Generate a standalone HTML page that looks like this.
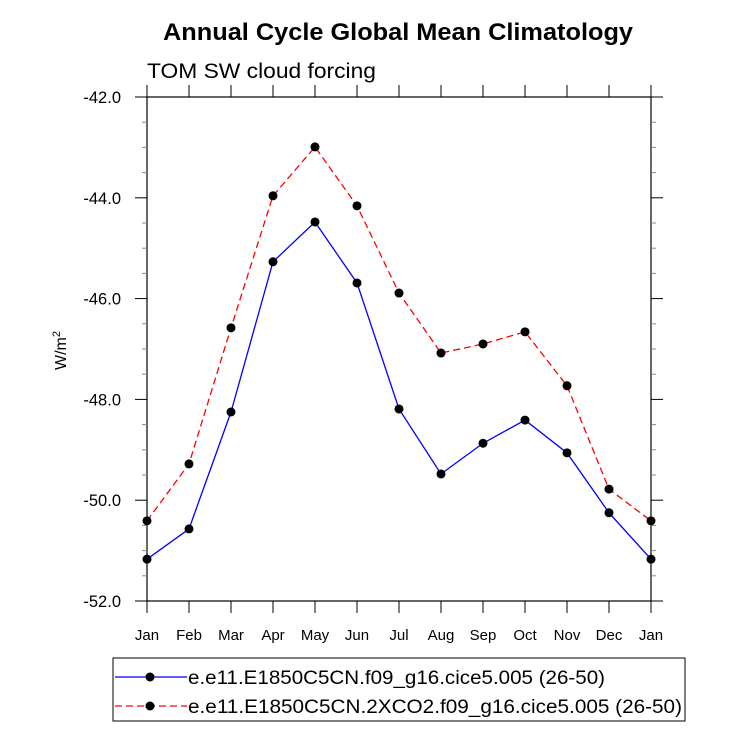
<!DOCTYPE html>
<html><head><meta charset="utf-8"><style>
body{margin:0;background:#fff;}
svg{display:block;font-family:"Liberation Sans",sans-serif;}
</style></head><body>
<svg id="c" width="733" height="732"></svg>
<script>
const months=["Jan","Feb","Mar","Apr","May","Jun","Jul","Aug","Sep","Oct","Nov","Dec","Jan"];
const ctrl=[-51.17,-50.57,-48.25,-45.27,-44.48,-45.69,-48.19,-49.48,-48.87,-48.41,-49.06,-50.25,-51.17];
const co2=[-50.41,-49.28,-46.58,-43.96,-42.99,-44.16,-45.89,-47.08,-46.90,-46.66,-47.73,-49.78,-50.41];
const yTicks=[-42,-44,-46,-48,-50,-52];
const yLabels=["-42.0","-44.0","-46.0","-48.0","-50.0","-52.0"];
const NS="http://www.w3.org/2000/svg",svg=document.getElementById('c');
const L=147,R=651,T=97,B=601;
const x=i=>L+i*(R-L)/(months.length-1);
const y=v=>T+(-42-v)*(B-T)/10;
function el(t,a,p){const e=document.createElementNS(NS,t);for(const k in a)e.setAttribute(k,a[k]);(p||svg).appendChild(e);return e;}
let t=el('text',{x:163,y:40,'font-size':24,'font-weight':'bold',textLength:470,lengthAdjust:'spacingAndGlyphs'});
t.textContent='Annual Cycle Global Mean Climatology';
t=el('text',{x:147,y:78,'font-size':21,textLength:229,lengthAdjust:'spacingAndGlyphs'});
t.textContent='TOM SW cloud forcing';
let f=el('rect',{x:L,y:T,width:R-L,height:B-T,fill:'none',stroke:'#000','stroke-width':1.2});

for(let k=0;k<=20;k++){const v=-42-k*0.5;const yy=y(v);const maj=k%4===0;const len=maj?12:5;const col=maj?'#000':'#888';
el('line',{x1:L,x2:L-len,y1:yy,y2:yy,stroke:col});el('line',{x1:R,x2:R+len,y1:yy,y2:yy,stroke:col});}
yTicks.forEach((v,i)=>{const tt=el('text',{x:121,y:y(v)+6,'text-anchor':'end','font-size':16.5});
tt.textContent=yLabels[i];});
months.forEach((m,i)=>{const xx=x(i);el('line',{x1:xx,x2:xx,y1:B,y2:B+12,stroke:'#000'});el('line',{x1:xx,x2:xx,y1:T,y2:T-12,stroke:'#000'});
const tt=el('text',{x:xx,y:640,'text-anchor':'middle','font-size':15});
tt.textContent=m;});
t=el('text',{x:0,y:0,'font-size':16,transform:'translate(66,370) rotate(-90)'});
t.innerHTML='W/m<tspan dy="-6" font-size="11">2</tspan>';
function series(d,col,dash,name){const p=el('polyline',{points:d.map((v,i)=>x(i)+','+y(v)).join(' '),fill:'none',stroke:col,'stroke-width':1.3,'stroke-dasharray':dash});

d.forEach((v,i)=>{const c=el('circle',{cx:x(i),cy:y(v),r:4.5,fill:'#000'});});}
series(co2,'#f00','7,4','co2');
series(ctrl,'#00f','none','control');
const lg=el('rect',{x:113,y:658,width:572,height:63,fill:'#fff',stroke:'#000'});

[[677,'#00f','none','e.e11.E1850C5CN.f09_g16.cice5.005 (26-50)',417],[706,'#f00','7,4','e.e11.E1850C5CN.2XCO2.f09_g16.cice5.005 (26-50)',494]].forEach(r=>{
el('line',{x1:115,x2:187,y1:r[0],y2:r[0],stroke:r[1],'stroke-dasharray':r[2],'stroke-width':1.3});el('circle',{cx:150,cy:r[0],r:4.5,fill:'#000'});
const tt=el('text',{x:188,y:r[0]+7,'font-size':19,textLength:r[4],lengthAdjust:'spacingAndGlyphs'});tt.textContent=r[3];});
</script>
</body></html>
